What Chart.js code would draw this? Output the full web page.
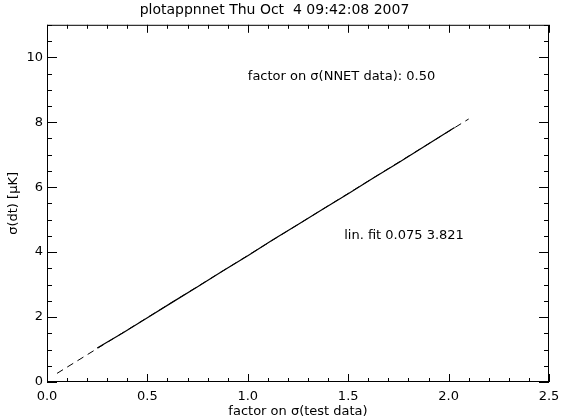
<!DOCTYPE html>
<html>
<head>
<meta charset="utf-8">
<script src="https://cdn.jsdelivr.net/npm/chart.js@4/dist/chart.umd.min.js"></script>
<style>
  html, body { margin: 0; padding: 0; background: #fff; }
  #wrap { width: 561px; height: 419px; }
</style>
</head>
<body>
<div id="wrap"><canvas id="myChart" width="561" height="419"></canvas></div>
<script>
// measured curve
const measX = [0.25, 0.375, 0.5, 0.625, 0.75, 0.875, 1.0, 1.125, 1.25, 1.375, 1.5, 1.625, 1.75, 1.875, 2.0, 2.03];
const measY = [1.05, 1.50, 1.98, 2.46, 2.93, 3.42, 3.89, 4.38, 4.85, 5.33, 5.80, 6.28, 6.75, 7.24, 7.72, 7.84];
// linear fit
const fitX = [0.05, 2.1];
const fitA = 0.075, fitB = 3.821;
const xTicks = [0.0, 0.5, 1.0, 1.5, 2.0, 2.5];
const yTicks = [0, 2, 4, 6, 8, 10];

const font = { family: 'DejaVu Sans', size: 13 };

const ticksPlugin = {
    id: 'idlTicks',
    afterDraw(chart) {
        const ctx = chart.ctx;
        const xs = chart.scales.x, ys = chart.scales.y;
        const a = chart.chartArea;
        ctx.save();
        ctx.strokeStyle = '#000';
        ctx.lineWidth = 1;
        ctx.strokeRect(a.left + 0.5, a.top + 0.5, a.right - a.left - 1, a.bottom - a.top - 1);
        ctx.beginPath();
        for (let i = 0; i <= 25; i++) {
            const v = i / 10;
            const px = Math.round(xs.getPixelForValue(v)) + 0.5;
            const len = i % 5 === 0 ? 8 : 4;
            ctx.moveTo(px, a.bottom); ctx.lineTo(px, a.bottom - len);
            ctx.moveTo(px, a.top); ctx.lineTo(px, a.top + len);
        }
        for (let i = 0; i <= 22; i++) {
            const v = i / 2;
            const py = Math.round(ys.getPixelForValue(v)) + 0.5;
            const len = i % 4 === 0 ? 10 : 5;
            ctx.moveTo(a.left, py); ctx.lineTo(a.left + len, py);
            ctx.moveTo(a.right, py); ctx.lineTo(a.right - len, py);
        }
        ctx.stroke();
        // notes
        ctx.fillStyle = '#000';
        ctx.font = '13px "DejaVu Sans"';
        ctx.textBaseline = 'middle';
        ctx.fillText('factor on σ(NNET data): 0.50', xs.getPixelForValue(1.0), ys.getPixelForValue(9.4));
        ctx.fillText('lin. fit ' + fitA.toFixed(3) + ' ' + fitB.toFixed(3), xs.getPixelForValue(1.48), ys.getPixelForValue(4.5));
        ctx.restore();
    }
};

new Chart(document.getElementById('myChart'), {
    type: 'scatter',
    data: {
        datasets: [{
            label: 'fit',
            data: fitX.map(x => ({ x: x, y: fitA + fitB * x })),
            showLine: true,
            borderColor: '#000',
            borderWidth: 1,
            borderDash: [7, 5],
            pointRadius: 0
        }, {
            label: 'data',
            data: measX.map((x, i) => ({ x: x, y: measY[i] })),
            showLine: true,
            borderColor: '#000',
            borderWidth: 1.2,
            pointRadius: 0
        }]
    },
    options: {
        responsive: false,
        animation: false,
        layout: { padding: { right: 12, left: 0, top: 0, bottom: 0 } },
        plugins: {
            legend: { display: false },
            tooltip: { enabled: false },
            title: {
                display: true,
                text: 'plotappnnet Thu Oct  4 09:42:08 2007',
                color: '#000',
                font: { family: 'DejaVu Sans', size: 14, weight: 'normal' },
                padding: { top: 2, bottom: 6 }
            }
        },
        scales: {
            x: {
                type: 'linear',
                min: 0, max: 2.5,
                afterBuildTicks: s => { s.ticks = xTicks.map(v => ({ value: v })); },
                afterFit: s => { s.height = 37; s.paddingRight = 0; s.paddingLeft = 0; },
                grid: { display: false, drawTicks: false },
                border: { display: false },
                ticks: { color: '#000', font: font, padding: 7, maxRotation: 0, callback: v => v.toFixed(1) },
                title: { display: true, text: 'factor on σ(test data)', color: '#000', font: font, padding: { top: 0, bottom: 0 } }
            },
            y: {
                type: 'linear',
                min: 0, max: 11,
                afterBuildTicks: s => { s.ticks = yTicks.map(v => ({ value: v })); },
                afterFit: s => { s.width = 47; },
                grid: { display: false, drawTicks: false },
                border: { display: false },
                ticks: { color: '#000', font: font, padding: 4, callback: v => String(v) },
                title: { display: true, text: 'σ(dt) [μK]', color: '#000', font: font, padding: { top: 6, bottom: 4 } }
            }
        }
    },
    plugins: [ticksPlugin]
});
</script>
</body>
</html>
